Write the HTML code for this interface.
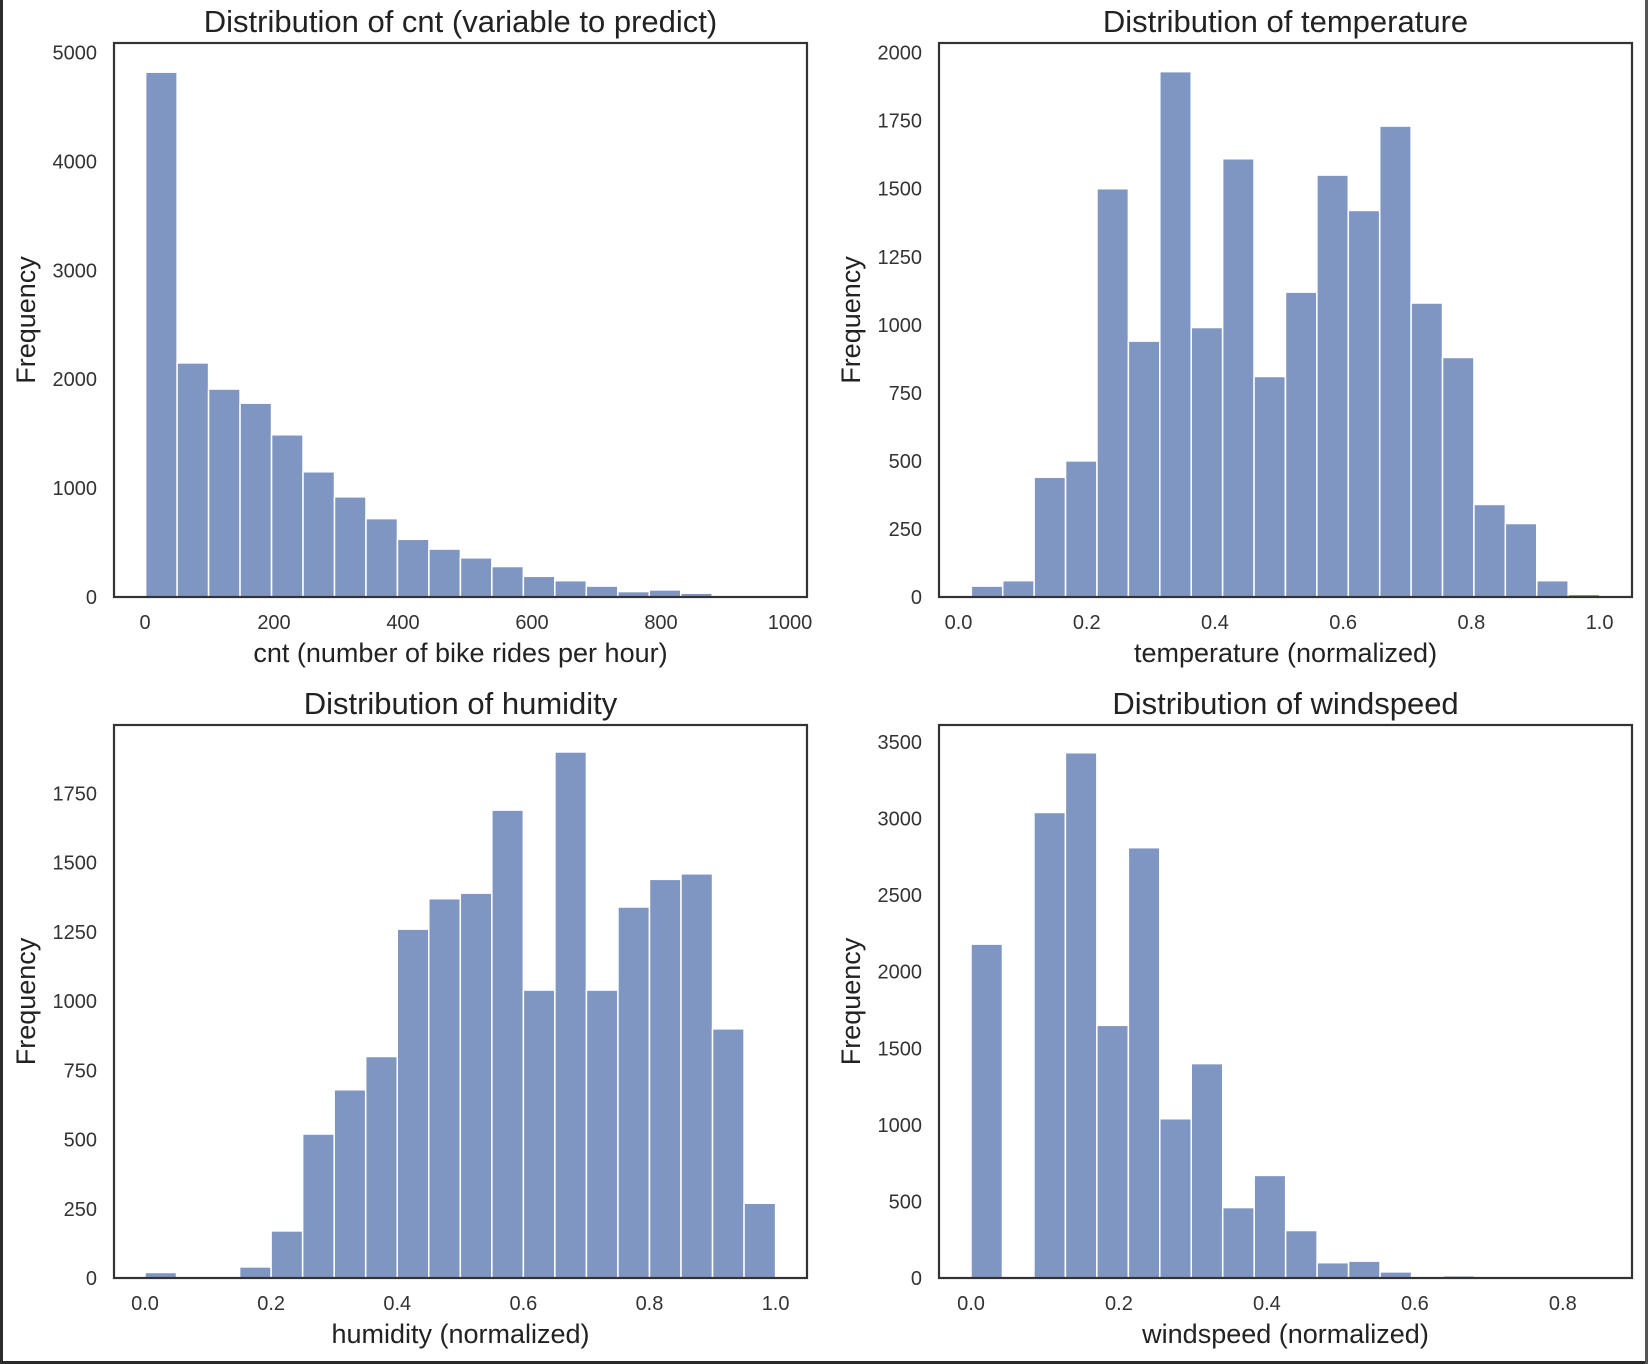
<!DOCTYPE html>
<html><head><meta charset="utf-8"><style>
html,body{margin:0;padding:0;background:#fff;}
svg{display:block;font-family:"Liberation Sans",Arial,sans-serif;}
</style></head><body>
<svg id="fig" width="1648" height="1364" viewBox="0 0 1648 1364" xmlns="http://www.w3.org/2000/svg">
<rect x="0" y="0" width="3" height="1364" fill="#2b2b2b"/>
<rect x="0" y="1361" width="1648" height="3" fill="#2b2b2b"/>
<rect x="1645" y="0" width="3" height="1364" fill="#555"/>
</svg>
<script>
const cntValues=[4820,2150,1910,1780,1490,1150,920,720,530,440,360,280,190,150,100,50,65,35,10,5];
const cntTicksX=[0,200,400,600,800,1000];
const cntTicksY=[0,1000,2000,3000,4000,5000];
const tempValues=[40,60,440,500,1500,940,1930,990,1610,810,1120,1550,1420,1730,1080,880,340,270,60,10];
const tempTicksX=[0,0.2,0.4,0.6,0.8,1.0];
const tempTicksY=[0,250,500,750,1000,1250,1500,1750,2000];
const humValues=[20,0,0,40,170,520,680,800,1260,1370,1390,1690,1040,1900,1040,1340,1440,1460,900,270];
const humTicksX=[0,0.2,0.4,0.6,0.8,1.0];
const humTicksY=[0,250,500,750,1000,1250,1500,1750];
const windValues=[2180,0,3040,3430,1650,2810,1040,1400,460,670,310,100,110,40,0,15,0,0,0,5];
const windTicksX=[0,0.2,0.4,0.6,0.8];
const windTicksY=[0,500,1000,1500,2000,2500,3000,3500];

const NS='http://www.w3.org/2000/svg';
const svg=document.getElementById('fig');
function mk(tag,attrs,parent){const e=document.createElementNS(NS,tag);for(const k in attrs)e.setAttribute(k,attrs[k]);(parent||svg).appendChild(e);return e;}

function panel(cfg){
  const g=mk('g',{});
  
  
  const xs=v=>cfg.x0px+(v-cfg.x0v)*(cfg.x1px-cfg.x0px)/(cfg.x1v-cfg.x0v);
  const ys=v=>cfg.y0px+v*(cfg.y1px-cfg.y0px)/cfg.y1v;
  const bw=(cfg.binEnd-cfg.binStart)/cfg.values.length;
  cfg.values.forEach((v,i)=>{
    if(v<=0)return;
    const xa=xs(cfg.binStart+i*bw), xb=xs(cfg.binStart+(i+1)*bw);
    const r=mk('rect',{x:xa,y:ys(v),width:xb-xa,height:ys(0)-ys(v),fill:'#8096c2',stroke:'#fff','stroke-width':1.5},g);
    
    
  });
  const fr=mk('rect',{x:cfg.L,y:cfg.T,width:cfg.R-cfg.L,height:cfg.B-cfg.T,fill:'none',stroke:'#333','stroke-width':2.2},g);
  
  
  cfg.ticksX.forEach(t=>{
    const tx=mk('text',{x:xs(t),y:cfg.B+32,'font-size':20,fill:'#333','text-anchor':'middle'},g);
    tx.textContent=cfg.fmtX(t);
    
    
  });
  cfg.ticksY.forEach(t=>{
    const ty=mk('text',{x:cfg.L-17,y:ys(t)+7,'font-size':20,fill:'#333','text-anchor':'end'},g);
    ty.textContent=String(t);
    
    
  });
  const tt=mk('text',{x:(cfg.L+cfg.R)/2,y:cfg.T-11,'font-size':31,fill:'#222','text-anchor':'middle'},g);
  tt.textContent=cfg.title;
  
  
  const xl=mk('text',{x:(cfg.L+cfg.R)/2,y:cfg.B+65,'font-size':27,fill:'#222','text-anchor':'middle'},g);
  xl.textContent=cfg.xlabel;
  
  
  const cy=(cfg.T+cfg.B)/2, cx=cfg.L-79;
  const yl=mk('text',{x:cx,y:cy,'font-size':27,fill:'#222','text-anchor':'middle',transform:'rotate(-90 '+cx+' '+cy+')'},g);
  yl.textContent='Frequency';
  
  
}
const f1=t=>t.toFixed(1);
panel({name:'cnt-histogram',title:'Distribution of cnt (variable to predict)',xlabel:'cnt (number of bike rides per hour)',
  L:114,R:807,T:43,B:597,x0v:0,x1v:1000,x0px:145,x1px:790,y0px:597,y1v:5000,y1px:52.6,
  binStart:1,binEnd:977,values:cntValues,ticksX:cntTicksX,ticksY:cntTicksY,fmtX:t=>String(t)});
panel({name:'temperature-histogram',title:'Distribution of temperature',xlabel:'temperature (normalized)',
  L:939,R:1632,T:43,B:597,x0v:0,x1v:1,x0px:958.5,x1px:1599.6,y0px:597,y1v:2000,y1px:52.6,
  binStart:0.02,binEnd:1.0,values:tempValues,ticksX:tempTicksX,ticksY:tempTicksY,fmtX:f1});
panel({name:'humidity-histogram',title:'Distribution of humidity',xlabel:'humidity (normalized)',
  L:114,R:807,T:725,B:1278,x0v:0,x1v:1,x0px:145,x1px:775.6,y0px:1278,y1v:1750,y1px:793.5,
  binStart:0,binEnd:1,values:humValues,ticksX:humTicksX,ticksY:humTicksY,fmtX:f1});
panel({name:'windspeed-histogram',title:'Distribution of windspeed',xlabel:'windspeed (normalized)',
  L:939,R:1632,T:725,B:1278,x0v:0,x1v:0.8,x0px:971,x1px:1562.8,y0px:1278,y1v:3500,y1px:742,
  binStart:0,binEnd:0.8507,values:windValues,ticksX:windTicksX,ticksY:windTicksY,fmtX:f1});
</script>
</body></html>
